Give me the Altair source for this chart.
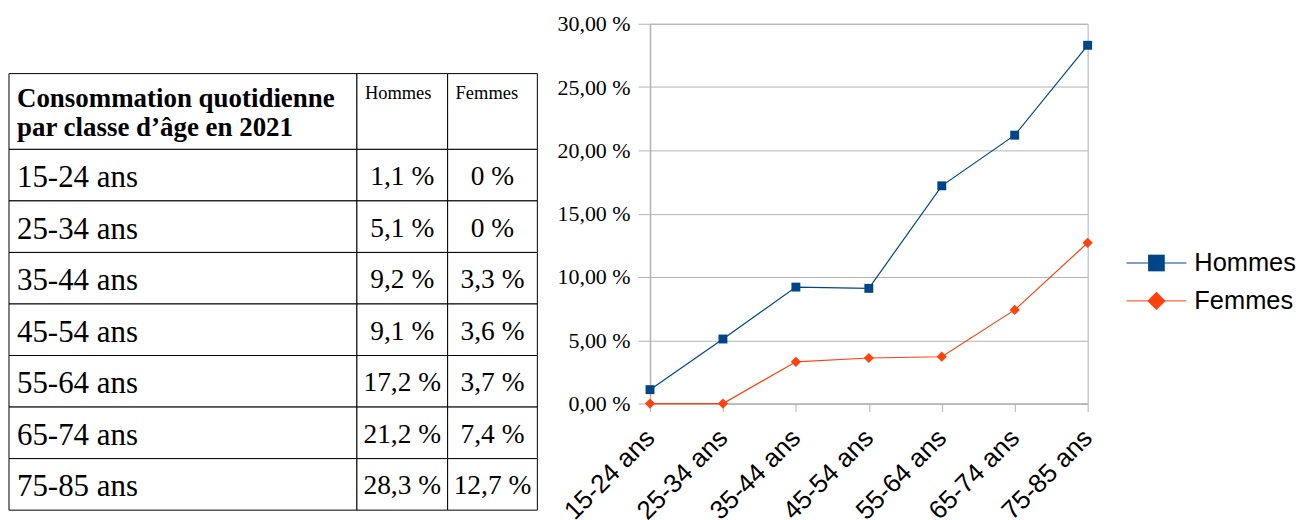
import altair as alt
import pandas as pd

# ---------------- data ----------------
ages = ["15-24 ans", "25-34 ans", "35-44 ans", "45-54 ans", "55-64 ans", "65-74 ans", "75-85 ans"]
hommes = [1.1, 5.1, 9.2, 9.1, 17.2, 21.2, 28.3]
femmes = [0.0, 0.0, 3.3, 3.6, 3.7, 7.4, 12.7]
series = ["Hommes", "Femmes"]
colors = ["#004586", "#ff420e"]
shapes = ["square", "diamond"]
table_title = "Consommation quotidienne\npar classe d’âge en 2021"
y_ticks = [0, 5, 10, 15, 20, 25, 30]

# ---------------- table layout (pixels) ----------------
COL_W = [349, 91, 90]
TOP_GAP = 50
HEADER_H = 76
ROW_H = 51.7
TABLE_W = sum(COL_W)
TABLE_H = TOP_GAP + HEADER_H + ROW_H * len(ages)

col_edges = [0]
for w in COL_W:
    col_edges.append(col_edges[-1] + w)
row_edges = [TOP_GAP, TOP_GAP + HEADER_H] + [TOP_GAP + HEADER_H + ROW_H * (i + 1) for i in range(len(ages))]


def fr(v):
    return f"{v:g}".replace(".", ",") + " %"


cells = pd.DataFrame(
    [
        {"x0": col_edges[c], "x1": col_edges[c + 1], "y0": row_edges[r], "y1": row_edges[r + 1]}
        for r in range(len(row_edges) - 1)
        for c in range(3)
    ]
)
title_df = pd.DataFrame({"x": [8], "y": [TOP_GAP + 34], "t": [table_title]})
head_df = pd.DataFrame(
    {"x": [col_edges[1] + 8, col_edges[2] + 8], "y": [TOP_GAP + 25] * 2, "t": series}
)
lab_df = pd.DataFrame(
    {"x": [8] * len(ages), "y": [row_edges[i + 1] + 38 for i in range(len(ages))], "t": ages}
)
val_rows = []
for i in range(len(ages)):
    val_rows.append({"x": (col_edges[1] + col_edges[2]) / 2, "y": row_edges[i + 1] + 36, "t": fr(hommes[i])})
    val_rows.append({"x": (col_edges[2] + col_edges[3]) / 2, "y": row_edges[i + 1] + 36, "t": fr(femmes[i])})
val_df = pd.DataFrame(val_rows)

tx = alt.Scale(domain=[0, TABLE_W], nice=False, zero=False)
ty = alt.Scale(domain=[0, TABLE_H], nice=False, zero=False, reverse=True)

rects = alt.Chart(cells).mark_rect(fill="white", stroke="black", strokeWidth=1).encode(
    x=alt.X("x0:Q", scale=tx, axis=None),
    x2="x1:Q",
    y=alt.Y("y0:Q", scale=ty, axis=None),
    y2="y1:Q",
)


def txt(df, **kw):
    return alt.Chart(df).mark_text(color="black", baseline="alphabetic", **kw).encode(
        x=alt.X("x:Q", scale=tx, axis=None),
        y=alt.Y("y:Q", scale=ty, axis=None),
        text="t:N",
    )


table_chart = alt.layer(
    rects,
    txt(title_df, align="left", font="Liberation Serif", fontSize=27, fontWeight="bold", lineBreak="\n", lineHeight=29),
    txt(head_df, align="left", font="Liberation Serif", fontSize=18.5),
    txt(lab_df, align="left", font="Liberation Serif", fontSize=31),
    txt(val_df, align="center", font="Liberation Serif", fontSize=27.5),
).properties(width=TABLE_W, height=TABLE_H, view=alt.ViewBackground(stroke="transparent"))

# ---------------- line chart ----------------
df = pd.DataFrame(
    {
        "age": ages * 2,
        "sexe": [series[0]] * len(ages) + [series[1]] * len(ages),
        "valeur": hommes + femmes,
    }
)

GRID = "#b3b3b3"
x_enc = alt.X(
    "age:N",
    sort=ages,
    scale=alt.Scale(type="point", padding=0),
    axis=alt.Axis(
        title=None,
        labelAngle=315,
        labelAlign="right",
        labelBaseline="middle",
        labelPadding=22,
        labelFont="Liberation Sans",
        labelFontSize=26,
        labelColor="black",
        tickColor=GRID,
        tickSize=8,
        domainColor=GRID,
        grid=False,
        labelFlush=False,
    ),
)
y_enc = alt.Y(
    "valeur:Q",
    scale=alt.Scale(domain=[0, 30], nice=False, zero=True),
    axis=alt.Axis(
        title=None,
        values=y_ticks,
        labelExpr="replace(format(datum.value, '.2f'), '.', ',') + ' %'",
        labelFont="Liberation Serif",
        labelFontSize=22,
        labelColor="black",
        tickSize=12,
        tickColor=GRID,
        domainColor=GRID,
        domainWidth=1.5,
        gridColor=GRID,
        labelPadding=8,
        labelFlush=False,
        labelOverlap=False,
    ),
)
color_enc = alt.Color("sexe:N", scale=alt.Scale(domain=series, range=colors), legend=None)
shape_enc = alt.Shape("sexe:N", scale=alt.Scale(domain=series, range=shapes), legend=None)

lines = alt.Chart(df).mark_line(strokeWidth=1.2).encode(x=x_enc, y=y_enc, color=color_enc, detail="sexe:N")
points = alt.Chart(df).mark_point(filled=True, opacity=1).encode(
    x=x_enc,
    y=y_enc,
    color=color_enc,
    shape=shape_enc,
    size=alt.Size("sexe:N", scale=alt.Scale(domain=series, range=[80, 105]), legend=None),
)

leg_df = pd.DataFrame({"sexe": series})
leg_y = alt.Y(
    "sexe:N",
    scale=alt.Scale(type="point", domain=series, range=[240, 278], padding=0),
    axis=None,
)
leg_rule = alt.Chart(leg_df).mark_rule(strokeWidth=1).encode(
    x=alt.value(478), x2=alt.value(538), y=leg_y, color=color_enc
)
leg_point = alt.Chart(leg_df).mark_point(filled=True, opacity=1).encode(
    x=alt.value(508),
    y=leg_y,
    color=color_enc,
    shape=shape_enc,
    size=alt.Size("sexe:N", scale=alt.Scale(domain=series, range=[280, 340]), legend=None),
)
leg_text = alt.Chart(leg_df).mark_text(
    align="left", baseline="middle", font="Liberation Sans", fontSize=25.5, color="black"
).encode(x=alt.value(546), y=leg_y, text="sexe:N")

line_chart = (
    alt.layer(
        alt.layer(lines, points),
        alt.layer(leg_rule, leg_point, leg_text),
    )
    .resolve_scale(y="independent", size="independent")
    .properties(width=439, height=381)
)

chart = (
    alt.hconcat(table_chart, line_chart, spacing=113, bounds="flush")
    .properties(padding={"left": 0, "top": 3, "right": 0, "bottom": 0})
    .configure_view(stroke=GRID)
)

chart.save("out.html", embed_options={"renderer": "svg", "actions": False})
